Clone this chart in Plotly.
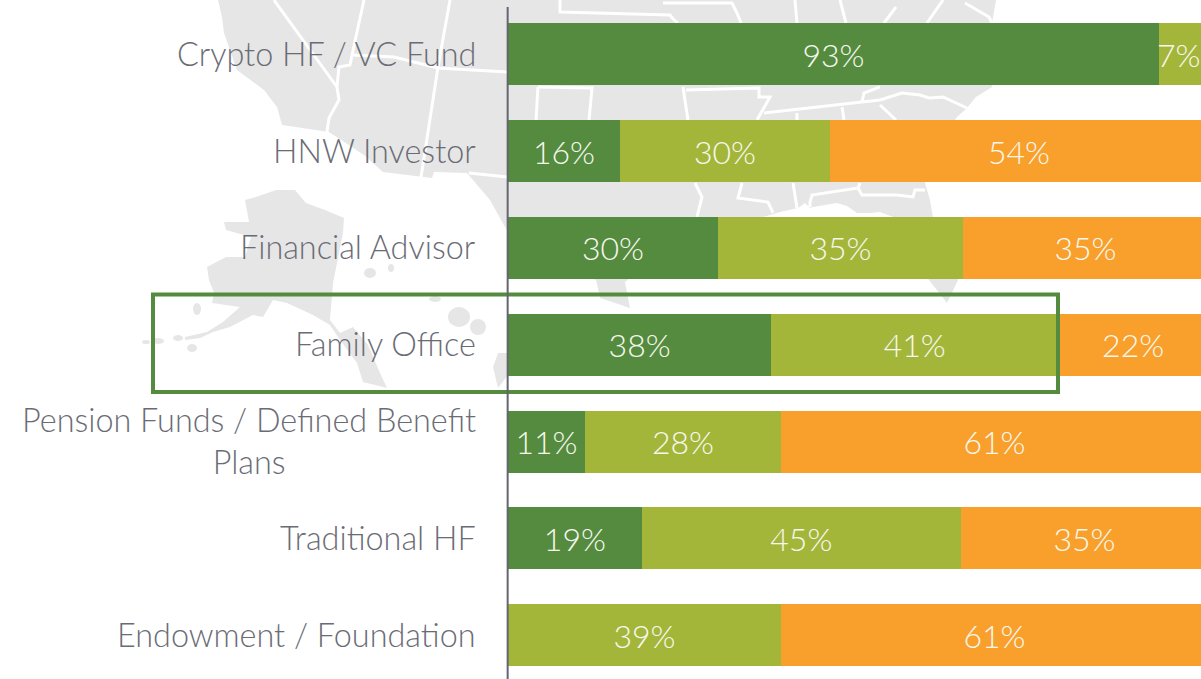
import plotly.graph_objects as go

categories = ["Crypto HF / VC Fund", "HNW Investor", "Financial Advisor", "Family Office",
              "Pension Funds / Defined Benefit<br>Plans", "Traditional HF", "Endowment / Foundation"]
dark_values = [93, 16, 30, 37.6, 11, 19.1, 0]
lime_values = [7, 30, 35, 41, 28, 45.6, 39]
orange_values = [0, 54, 35, 21.4, 61, 35.3, 61]
dark_labels = ["93%", "16%", "30%", "38%", "11%", "19%", ""]
lime_labels = ["", "30%", "35%", "41%", "28%", "45%", "39%"]
orange_labels = ["", "54%", "35%", "22%", "61%", "35%", "61%"]
clipped_label = "7%"

W, H = 1201, 679
L, T = 508, 7
PW, PH = W - L, H - T
FONT = "Lato Light, Lato, sans-serif"
GREY = "#E6E6E6"
LABEL_WHITE = "#F6F8EE"

def px(x): return (x - L) / PW
def py(y): return (H - y) / PH
def path(pts, close=False):
    s = "M " + " L ".join(f"{px(x):.4f},{py(y):.4f}" for x, y in pts)
    return s + (" Z" if close else "")

# Decorative background map, traced in page pixels
us_outline = [(218,0),(222,17),(224,33),(237,70),(264,90),(277,107),(282,125),(329,132),(364,155),(383,172),
              (432,178),(434,172),(467,173),(490,200),(505,227),(530,262),(596,280),(600,298),(630,308),(625,282),
              (640,270),(700,235),(770,215),(780,212),(798,208),(805,203),(810,208),(813,207),(837,203),(847,206),
              (857,213),(870,213),(880,212),(893,217),(905,250),(929,280),(947,303),(958,280),(933,217),(930,200),
              (925,183),(956,118),(967,108),(976,97),(992,87),(992,23),(996,0)]
alaska = [(245,200),(256,197),(276,190),(295,190),(306,203),(325,210),(344,218),(343,233),(333,283),(330,320),
          (340,333),(353,327),(368,345),(380,373),(387,388),(363,382),(357,363),(340,340),(330,325),(313,315),
          (287,303),(273,300),(263,317),(253,315),(230,327),(213,332),(200,338),(185,340),(185,337),(207,332),
          (223,322),(240,307),(212,303),(214,293),(209,280),(207,267),(226,257),(245,257),(251,237),(226,230),
          (224,222),(249,222)]
big_island = [(493,367),(498,353),(508,353),(508,375),(498,388)]
islands = [(158,341,6,3),(178,338,5,3),(192,348,5,4),(197,309,4,6),(370,273,6,5),(391,268,3,4),(146,342,4,2),
           (435,299,6,3),(459,317,11,10),(478,327,8,8)]
state_lines = [
    [(274,0),(337,87),(339,100),(329,118),(327,132)],
    [(364,0),(352,55)],
    [(450,0),(438,67),(421,177)],
    [(352,55),(394,57),(438,68),(507,72)],
    [(337,87),(339,67),(350,65),(352,55)],
    [(469,173),(507,177)],
    [(560,0),(560,12),(670,15),(674,20),(678,23)],
    [(663,3),(732,3),(737,13),(741,23)],
    [(795,0),(797,23)],
    [(840,0),(846,23)],
    [(896,7),(884,23)],
    [(943,0),(927,23)],
    [(965,3),(989,17),(992,23)],
    [(538,87),(536,120)],
    [(538,87),(592,88),(589,120)],
    [(683,87),(688,120)],
    [(686,90),(759,88),(759,97),(770,97),(757,120)],
    [(764,113),(862,102),(880,100)],
    [(862,102),(864,93),(880,87)],
    [(880,100),(902,93),(920,95),(929,98),(943,97),(967,108)],
    [(880,105),(896,120)],
    [(797,113),(797,120)],
    [(842,107),(844,120)],
    [(695,183),(702,197),(697,217)],
    [(742,183),(738,198),(768,202),(773,213)],
    [(793,183),(797,208)],
    [(810,207),(810,202),(812,195),(858,188),(860,183)],
    [(858,188),(862,195),(897,195),(913,197),(915,190),(925,190)],
]

def below(**kw):
    return dict(layer="below", xref="paper", yref="paper", **kw)

shapes = [below(type="path", path=path(p, True), fillcolor=GREY, line_width=0) for p in (us_outline, alaska, big_island)]
for cx, cy, rx, ry in islands:
    shapes.append(below(type="circle", x0=px(cx-rx), x1=px(cx+rx), y0=py(cy+ry), y1=py(cy-ry), fillcolor=GREY, line_width=0))
for ln in state_lines:
    shapes.append(below(type="path", path=path(ln), line=dict(color="white", width=3)))
# highlight frame round the Family Office row
shapes.append(dict(type="rect", x0=px(153), x1=px(1058), y0=py(392), y1=py(294.5), xref="paper", yref="paper",
                   line=dict(color="#558B3F", width=4), layer="above"))
shapes.append(dict(type="line", x0=-0.0005, x1=-0.0005, y0=0, y1=1, xref="paper", yref="paper",
                   line=dict(color="#636570", width=2), layer="above"))

y = list(range(len(categories)))
fig = go.Figure()
for vals, labels, color in [(dark_values, dark_labels, "#558B3F"), (lime_values, lime_labels, "#A4B63A"), (orange_values, orange_labels, "#F9A02C")]:
    fig.add_trace(go.Bar(y=y, x=vals, orientation="h", text=labels, marker=dict(color=color, line_width=0), width=0.64,
                         textposition="inside", insidetextanchor="middle", textangle=0,
                         insidetextfont=dict(family=FONT, size=32, color=LABEL_WHITE), hoverinfo="skip"))

annotations = [dict(x=px(478), xref="paper", y=i, yref="y", yshift=1, text=c, xanchor="right", align="center", showarrow=False,
                    font=dict(family=FONT, size=32.4, color="#6A6C75")) for i, c in enumerate(categories)]
annotations.append(dict(x=95.86, xref="x", y=0, yref="y", text=clipped_label, showarrow=False,
                        font=dict(family=FONT, size=32, color=LABEL_WHITE)))

fig.update_layout(barmode="stack", width=W, height=H, margin=dict(l=L, r=0, t=T, b=0, pad=0), showlegend=False,
                  paper_bgcolor="white", plot_bgcolor="rgba(0,0,0,0)", shapes=shapes, annotations=annotations)
fig.update_xaxes(range=[0, 99], visible=False, fixedrange=True)
fig.update_yaxes(range=[6.4515, -0.4885], tickvals=y, showticklabels=False, ticks="", showgrid=False, zeroline=False,
                 showline=False, fixedrange=True)
fig.write_html("out.html", config=dict(displayModeBar=False), post_script="document.body.style.margin='0';document.body.style.overflow='hidden';")
